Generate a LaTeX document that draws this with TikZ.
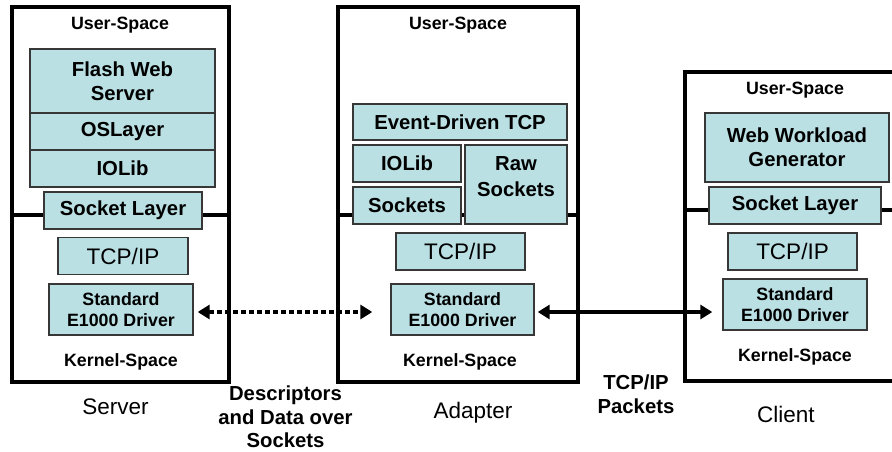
\documentclass[tikz,border=0pt]{standalone}
\usepackage{fontspec}
\setmainfont{Liberation Sans}
\usetikzlibrary{arrows.meta}
\definecolor{layerfill}{RGB}{186,224,228}
\definecolor{layerline}{RGB}{55,55,55}
\begin{document}
\begin{tikzpicture}[x=1pt, y=-1pt, inner sep=0pt,
      layer/.style={draw=layerline, line width=1.4pt, fill=layerfill, align=center,
         font=\fontsize{20.3}{24}\selectfont\bfseries},
      tcpbox/.style={draw=layerline, line width=1.4pt, fill=layerfill,
         minimum width=129pt, minimum height=37pt, font=\fontsize{22.5}{26}\selectfont},
      drvbox/.style={draw=layerline, line width=1.4pt, fill=layerfill, align=center,
         minimum width=144pt, minimum height=51pt, font=\fontsize{17.8}{20.5}\selectfont\bfseries},
      spacelbl/.style={font=\fontsize{17.8}{20}\selectfont\bfseries},
      hostbox/.style={line width=3.5pt},
      hostname/.style={font=\fontsize{22.5}{26}\selectfont},
      note/.style={align=center, font=\fontsize{20.3}{23.5}\selectfont\bfseries},
      wire/.style={line width=3.5pt, {Triangle[length=12pt,width=14pt]}-{Triangle[length=12pt,width=14pt]}}]
   \clip (0,0) rectangle (892,452);
   % machines
   \draw[hostbox] (12,7) rectangle (229,382);
   \draw[hostbox] (12,215) -- (229,215);
   \draw[hostbox] (338,7) rectangle (578,382);
   \draw[hostbox] (338,215) -- (578,215);
   \draw[hostbox] (900,72) -- (685,72) -- (685,381) -- (900,381);
   \draw[hostbox] (685,210) -- (900,210);

   % server
   \node[spacelbl] (sU) at (120,25) {User-Space};
   \node[layer, minimum width=185pt, minimum height=64pt] (sF) at (122.5,81) {Flash Web\\Server};
   \node[layer, minimum width=185pt, minimum height=37pt] (sO) at (122.5,131.5) {OSLayer};
   \node[layer, minimum width=185pt, minimum height=37pt] (sI) at (122.5,168.5) {IOLib};
   \node[layer, minimum width=158pt, minimum height=37pt] (sS) at (123,210.5) {Socket Layer};
   \node[tcpbox, minimum width=130pt] (sT) at (123,256) {TCP/IP};
   \node[drvbox] (sD) at (121,309.5) {Standard\\E1000 Driver};
   \node[spacelbl] (sK) at (121,362) {Kernel-Space};
   \node[hostname] (sN) at (115.5,407) {Server};

   % adapter
   \node[spacelbl] (aU) at (458,25) {User-Space};
   \node[layer, minimum width=214pt, minimum height=36pt] (aE) at (460,122) {Event-Driven TCP};
   \node[layer, minimum width=108pt, minimum height=37pt] (aI) at (407,163.5) {IOLib};
   \node[layer, minimum width=108pt, minimum height=37pt] (aS) at (407,205.5) {Sockets};
   \node[layer, minimum width=102pt, minimum height=79pt, text depth=16pt] (aR) at (516,184.5) {Raw\\[2pt]Sockets};
   \node[tcpbox] (aT) at (460.5,251.5) {TCP/IP};
   \node[drvbox, minimum width=143pt] (aD) at (462.5,309.5) {Standard\\E1000 Driver};
   \node[spacelbl] (aK) at (460,362) {Kernel-Space};
   \node[hostname] (aN) at (473,413) {Adapter};

   % client
   \node[spacelbl] (cU) at (795,90) {User-Space};
   \node[layer, minimum width=184pt, minimum height=69pt] (cW) at (797,147.5) {Web Workload\\Generator};
   \node[layer, minimum width=172pt, minimum height=37pt] (cS) at (795,205.5) {Socket Layer};
   \node[tcpbox] (cT) at (792.5,251.5) {TCP/IP};
   \node[drvbox] (cD) at (795,304.5) {Standard\\E1000 Driver};
   \node[spacelbl] (cK) at (795,357) {Kernel-Space};
   \node[hostname] (cN) at (786,414) {Client};

   % links
   \draw[wire, dash pattern=on 5pt off 3pt, shorten <=4pt, shorten >=18pt]
      ([yshift=-2.5pt]sD.east) -- ([yshift=-2.5pt]aD.west);
   \draw[wire, shorten <=3pt, shorten >=10pt]
      ([yshift=-2.5pt]aD.east) -- ([yshift=-2.5pt]aD.east -| cD.west);
   \node[note] (dN) at (285.5,417) {Descriptors\\and Data over\\Sockets};
   \node[note] (pN) at (636,394) {TCP/IP\\Packets};
\end{tikzpicture}
\end{document}
